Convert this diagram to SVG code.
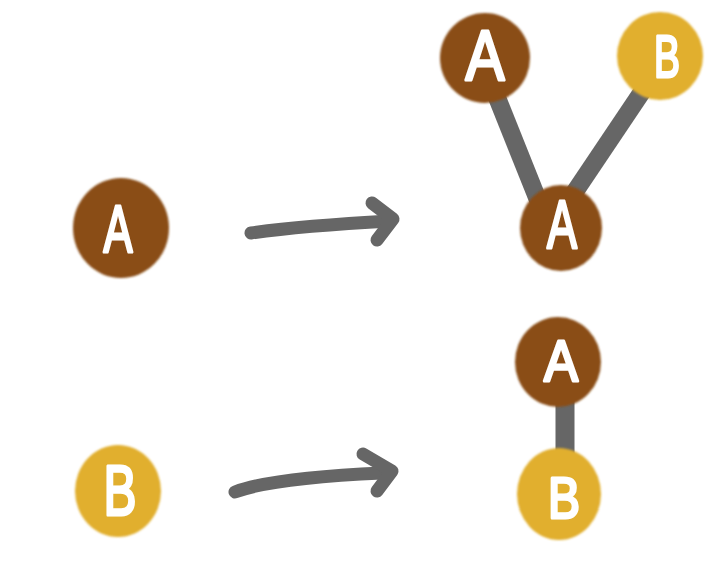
<svg xmlns="http://www.w3.org/2000/svg" width="726" height="566" viewBox="0 0 726 566">
<defs>
<filter id="soft" x="-10%" y="-10%" width="120%" height="120%"><feGaussianBlur stdDeviation="0.8"/></filter>
<style>
.a{fill:#8A4E18;filter:url(#soft)}
.b{fill:#E1AF2E;filter:url(#soft)}
.t{fill:#fff;stroke:#fff;stroke-width:3;stroke-linejoin:round;font-family:"Liberation Sans",Arial,sans-serif;text-anchor:middle}
.e{fill:none;stroke:#666;stroke-linecap:butt}
.ar{fill:none;stroke:#666;stroke-width:13;stroke-linecap:round;stroke-linejoin:round}
</style>
</defs>
<rect width="726" height="566" fill="#fff"/>
<g id="connectors">
<line class="e" x1="490" y1="80" x2="542" y2="210" stroke-width="18"/>
<line class="e" x1="650" y1="80" x2="566" y2="205" stroke-width="18"/>
<line class="e" x1="565" y1="395" x2="565" y2="458" stroke-width="19"/>
<path class="ar" d="M251,233 Q300,226 390,221"/>
<path class="ar" d="M372,203 L393,219 L377,240"/>
<path class="ar" d="M235,492 Q272,478 382,473"/>
<path class="ar" d="M363,454 L392,471 L377,491"/>
</g>
<g id="nodeA1"><ellipse class="a" cx="121" cy="228" rx="48" ry="50"/><text class="t" x="118" y="252" font-size="66" textLength="29" lengthAdjust="spacingAndGlyphs">A</text></g>
<g id="nodeB1"><ellipse class="b" cx="118" cy="491" rx="43" ry="46"/><text class="t" x="120" y="515" font-size="70" textLength="33" lengthAdjust="spacingAndGlyphs">B</text></g>
<g id="treeA_top"><ellipse class="a" cx="485" cy="58" rx="45" ry="45"/><text class="t" x="485" y="80" font-size="70" textLength="39" lengthAdjust="spacingAndGlyphs">A</text></g>
<g id="treeB_top"><ellipse class="b" cx="660" cy="56" rx="43" ry="44"/><text class="t" x="667" y="77" font-size="60" textLength="26" lengthAdjust="spacingAndGlyphs">B</text></g>
<g id="treeA_root"><ellipse class="a" cx="561" cy="228" rx="41" ry="43"/><text class="t" x="562" y="248" font-size="68" textLength="30" lengthAdjust="spacingAndGlyphs">A</text></g>
<g id="treeA_bottom"><ellipse class="a" cx="558" cy="362" rx="43" ry="45"/><text class="t" x="561" y="381" font-size="58" textLength="34" lengthAdjust="spacingAndGlyphs">A</text></g>
<g id="treeB_bottom"><ellipse class="b" cx="559" cy="494" rx="42" ry="46"/><text class="t" x="564" y="518" font-size="58" textLength="32" lengthAdjust="spacingAndGlyphs">B</text></g>
</svg>
